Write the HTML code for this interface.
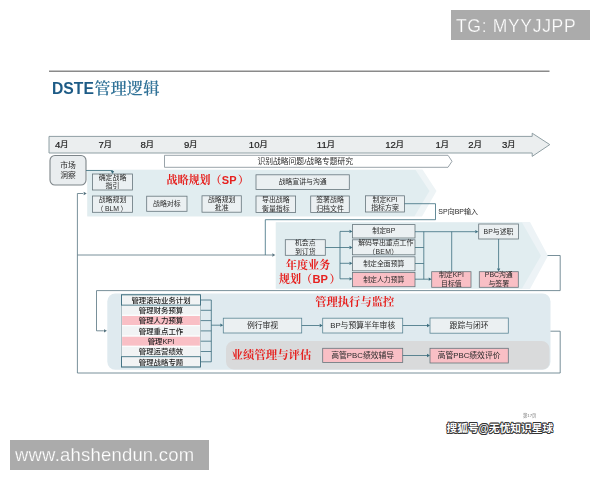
<!DOCTYPE html>
<html lang="zh"><head><meta charset="utf-8"><title>DSTE管理逻辑</title>
<style>
html,body{margin:0;padding:0;background:#fff;}
body{width:600px;height:480px;overflow:hidden;position:relative;font-family:"Liberation Sans", "Noto Sans CJK SC", sans-serif;}
svg{position:absolute;left:0;top:0;filter:blur(0.35px);}
svg text{font-family:"Liberation Sans", "Noto Sans CJK SC", sans-serif;}
svg text.sf{font-family:"Liberation Serif", "Noto Serif CJK SC", serif;font-weight:bold;fill:#e6211f;}
svg text .ss{font-family:"Liberation Sans",sans-serif;}
.wm{position:absolute;background:#ababab;color:#fff;white-space:nowrap;-webkit-text-stroke:0.25px #ababab;}
#tg{left:451px;top:10px;width:139px;height:30px;font-size:17.5px;line-height:30px;letter-spacing:0.68px;}
#tg span{position:absolute;left:5px;top:0.5px;filter:blur(0.25px);}
#www{left:10px;top:440px;width:199px;height:29.5px;font-size:18.5px;line-height:29px;}
#www span{position:absolute;left:5px;top:0;letter-spacing:0.2px;filter:blur(0.25px);}
#sohu{position:absolute;left:446.5px;top:420px;font-size:10.7px;line-height:16px;color:#fff;font-weight:bold;white-space:nowrap;text-shadow:-0.6px -0.6px 0 #333,0.6px -0.6px 0 #333,-0.6px 0.6px 0 #333,0.6px 0.6px 0 #333,0 0.8px 0 #333,0 -0.8px 0 #333,0.8px 0 0 #333,-0.8px 0 0 #333;}
</style></head><body>
<svg width="600" height="480" viewBox="0 0 600 480">
<line x1="49" y1="71.3" x2="549.5" y2="71.3" stroke="#8a8a8a" stroke-width="1.6"/>
<text x="52" y="93.8" font-size="15.7" font-weight="bold" fill="#1d5b86">DSTE</text>
<text x="94.3" y="93.8" font-size="16.3" fill="#2f7197" style='font-family:"Liberation Serif", "Noto Serif CJK SC", serif;font-weight:600'>管理逻辑</text>
<polygon points="49,136.4 532.2,136.4 532.2,133.2 549.8,144.6 532.2,156.4 532.2,153 49,153" fill="#ebeeef" stroke="#84959b" stroke-width="0.9"/>
<text x="55" y="147.6" font-size="9.6" fill="#222" stroke="#222" stroke-width="0.2">4<tspan font-size="8.2" dy="-0.2">月</tspan></text>
<text x="98.5" y="147.6" font-size="9.6" fill="#222" stroke="#222" stroke-width="0.2">7<tspan font-size="8.2" dy="-0.2">月</tspan></text>
<text x="140.5" y="147.6" font-size="9.6" fill="#222" stroke="#222" stroke-width="0.2">8<tspan font-size="8.2" dy="-0.2">月</tspan></text>
<text x="184" y="147.6" font-size="9.6" fill="#222" stroke="#222" stroke-width="0.2">9<tspan font-size="8.2" dy="-0.2">月</tspan></text>
<text x="248.8" y="147.6" font-size="9.6" fill="#222" stroke="#222" stroke-width="0.2">10<tspan font-size="8.2" dy="-0.2">月</tspan></text>
<text x="316.8" y="147.6" font-size="9.6" fill="#222" stroke="#222" stroke-width="0.2">11<tspan font-size="8.2" dy="-0.2">月</tspan></text>
<text x="385.2" y="147.6" font-size="9.6" fill="#222" stroke="#222" stroke-width="0.2">12<tspan font-size="8.2" dy="-0.2">月</tspan></text>
<text x="435.5" y="147.6" font-size="9.6" fill="#222" stroke="#222" stroke-width="0.2">1<tspan font-size="8.2" dy="-0.2">月</tspan></text>
<text x="468.3" y="147.6" font-size="9.6" fill="#222" stroke="#222" stroke-width="0.2">2<tspan font-size="8.2" dy="-0.2">月</tspan></text>
<text x="502" y="147.6" font-size="9.6" fill="#222" stroke="#222" stroke-width="0.2">3<tspan font-size="8.2" dy="-0.2">月</tspan></text>
<polygon points="164.5,155.3 448,155.3 452,161.3 448,167.3 164.5,167.3" fill="#fff" stroke="#8f9aa0" stroke-width="0.9"/>
<text x="257.4" y="163.6" font-size="7.8" fill="#2a2a2a">识别战略问题/战略专题研究</text>
<polygon points="87.3,169.5 422.5,169.5 436.5,191 422,216.6 87.3,216.6" fill="#eef4f6"/>
<polygon points="87.3,170 415.6,170 429.5,191 414.5,216.3 87.3,216.3" fill="#e1edf0"/>
<polygon points="275.8,222 530,222 548,255.7 530,289 275.8,289" fill="#edf3f6"/>
<polygon points="275.8,222.5 522,222.5 541,255.7 522,288.5 275.8,288.5" fill="#e1edf0"/>
<rect x="107.3" y="293.5" width="443.2" height="76.3" rx="8" fill="#dfeaef"/>
<path d="M234,341 H541.5 a8,8 0 0 1 8,8 V362.5 a7,7 0 0 1 -7,7 H234 a8,8 0 0 1 -8,-8 V349 a8,8 0 0 1 8,-8 Z" fill="#d9dadb"/>
<rect x="50" y="155.5" width="36" height="29.5" rx="5" fill="#e9edef" stroke="#7d8589" stroke-width="1.1"/>
<text x="68" y="168.1" font-size="7.8" text-anchor="middle" fill="#2a2a2a">市场</text>
<text x="68" y="177.5" font-size="7.8" text-anchor="middle" fill="#2a2a2a">洞察</text>
<polyline points="86,170.5 112.5,170.5 112.5,171.5" fill="none" stroke="#3b6d7e" stroke-width="0.8"/>
<polygon points="112.5,174 110.85,171.0 114.15,171.0" fill="#3b6d7e"/>
<rect x="92.5" y="174" width="40.0" height="16.0" fill="#ebf0f2" stroke="#66757c" stroke-width="0.8"/>
<text x="112.5" y="179.6" font-size="6.9" text-anchor="middle" fill="#2a2a2a" font-weight="normal">确定战略</text>
<text x="112.5" y="188.4" font-size="6.9" text-anchor="middle" fill="#2a2a2a" font-weight="normal">指引</text>
<rect x="92.5" y="196" width="40.0" height="16.3" fill="#ebf0f2" stroke="#66757c" stroke-width="0.8"/>
<text x="112.5" y="201.8" font-size="6.9" text-anchor="middle" fill="#2a2a2a" font-weight="normal">战略规划</text>
<text x="112.0" y="210.6" font-size="6.9" text-anchor="middle" fill="#2a2a2a" font-weight="normal">（<tspan dx="1.5">BLM</tspan><tspan dx="1.5">）</tspan></text>
<rect x="146.7" y="196.2" width="40.3" height="15.1" fill="#ebf0f2" stroke="#66757c" stroke-width="0.8"/>
<text x="166.8" y="205.8" font-size="6.9" text-anchor="middle" fill="#2a2a2a" font-weight="normal">战略对标</text>
<rect x="202" y="195.8" width="39.3" height="16.4" fill="#ebf0f2" stroke="#66757c" stroke-width="0.8"/>
<text x="221.7" y="201.6" font-size="6.9" text-anchor="middle" fill="#2a2a2a" font-weight="normal">战略规划</text>
<text x="221.7" y="210.4" font-size="6.9" text-anchor="middle" fill="#2a2a2a" font-weight="normal">批准</text>
<rect x="256" y="196" width="39.6" height="16.5" fill="#ebf0f2" stroke="#66757c" stroke-width="0.8"/>
<text x="275.8" y="201.9" font-size="6.9" text-anchor="middle" fill="#2a2a2a" font-weight="normal">导出战略</text>
<text x="275.8" y="210.7" font-size="6.9" text-anchor="middle" fill="#2a2a2a" font-weight="normal">衡量指标</text>
<rect x="310.7" y="196" width="38.6" height="16.5" fill="#ebf0f2" stroke="#66757c" stroke-width="0.8"/>
<text x="330.0" y="201.9" font-size="6.9" text-anchor="middle" fill="#2a2a2a" font-weight="normal">签署战略</text>
<text x="330.0" y="210.7" font-size="6.9" text-anchor="middle" fill="#2a2a2a" font-weight="normal">归档文件</text>
<rect x="365.5" y="195.8" width="39.0" height="16.2" fill="#ebf0f2" stroke="#66757c" stroke-width="0.8"/>
<text x="385.0" y="201.5" font-size="6.9" text-anchor="middle" fill="#2a2a2a" font-weight="normal">制定KPI</text>
<text x="385.0" y="210.3" font-size="6.9" text-anchor="middle" fill="#2a2a2a" font-weight="normal">指标方案</text>
<rect x="256" y="174.8" width="93.3" height="14.7" fill="#ebf0f2" stroke="#66757c" stroke-width="0.8"/>
<text x="302.6" y="184.2" font-size="6.9" text-anchor="middle" fill="#2a2a2a" font-weight="normal">战略宣讲与沟通</text>
<text class="sf" x="166.5" y="183.8" font-size="11">战略规划（<tspan class="ss" dx="0.3">SP</tspan><tspan dx="1.6">）</tspan></text>
<polyline points="404.5,203.7 435.5,203.7 435.5,219.7 265.3,219.7 265.3,255" fill="none" stroke="#3b6d7e" stroke-width="0.8"/>
<text x="438.3" y="213.8" font-size="7" fill="#2a2a2a">SP向BP输入</text>
<polyline points="77.5,255 272,255" fill="none" stroke="#577480" stroke-width="0.8"/>
<polygon points="275.3,255 272.3,253.35 272.3,256.65" fill="#577480"/>
<rect x="285.3" y="239.7" width="40.0" height="15.6" fill="#ebf0f2" stroke="#66757c" stroke-width="0.8"/>
<text x="305.3" y="245.1" font-size="6.9" text-anchor="middle" fill="#2a2a2a" font-weight="normal">机会点</text>
<text x="305.3" y="253.9" font-size="6.9" text-anchor="middle" fill="#2a2a2a" font-weight="normal">到订货</text>
<rect x="352.5" y="224.6" width="62.5" height="13.4" fill="#ebf0f2" stroke="#66757c" stroke-width="0.8"/>
<text x="383.8" y="233.3" font-size="6.9" text-anchor="middle" fill="#2a2a2a" font-weight="normal">制定BP</text>
<rect x="352.5" y="239.8" width="62.5" height="15.0" fill="#ebf0f2" stroke="#66757c" stroke-width="0.8"/>
<text x="385.8" y="244.9" font-size="6.9" text-anchor="middle" fill="#2a2a2a" font-weight="normal">解码导出重点工作</text>
<text x="383.4" y="253.7" font-size="6.9" text-anchor="middle" fill="#2a2a2a" font-weight="normal" letter-spacing="0.3">（BEM）</text>
<rect x="352.5" y="256.8" width="62.5" height="14.0" fill="#ebf0f2" stroke="#66757c" stroke-width="0.8"/>
<text x="383.8" y="265.8" font-size="6.9" text-anchor="middle" fill="#2a2a2a" font-weight="normal">制定全面预算</text>
<rect x="352.5" y="272.5" width="62.5" height="14.2" fill="#f9bfc5" stroke="#66757c" stroke-width="0.8"/>
<text x="383.8" y="281.6" font-size="6.9" text-anchor="middle" fill="#2a2a2a" font-weight="normal">制定人力预算</text>
<rect x="478.7" y="224" width="39.7" height="15.0" fill="#ebf0f2" stroke="#66757c" stroke-width="0.8"/>
<text x="498.5" y="233.5" font-size="6.9" text-anchor="middle" fill="#2a2a2a" font-weight="normal">BP与述职</text>
<rect x="431.7" y="271.7" width="39.3" height="15.6" fill="#f9bfc5" stroke="#66757c" stroke-width="0.8"/>
<text x="451.4" y="277.1" font-size="6.9" text-anchor="middle" fill="#2a2a2a" font-weight="normal">制定KPI</text>
<text x="451.4" y="285.9" font-size="6.9" text-anchor="middle" fill="#2a2a2a" font-weight="normal">目标值</text>
<rect x="479.3" y="271.7" width="39.0" height="15.6" fill="#f9bfc5" stroke="#66757c" stroke-width="0.8"/>
<text x="498.8" y="277.1" font-size="6.9" text-anchor="middle" fill="#2a2a2a" font-weight="normal">PBC沟通</text>
<text x="498.8" y="285.9" font-size="6.9" text-anchor="middle" fill="#2a2a2a" font-weight="normal">与签署</text>
<text class="sf" x="285.8" y="268.7" font-size="11.1">年度业务</text>
<text class="sf" x="278.8" y="282.9" font-size="11.1">规划（<tspan class="ss" dx="0.3">BP</tspan><tspan dx="1.6">）</tspan></text>
<polyline points="325.3,247.5 340,247.5" fill="none" stroke="#3b6d7e" stroke-width="0.8"/>
<polyline points="340,231.4 340,278.8" fill="none" stroke="#3b6d7e" stroke-width="0.8"/>
<polyline points="340,231.4 349.5,231.4" fill="none" stroke="#3b6d7e" stroke-width="0.8"/>
<polygon points="352.5,231.4 349.5,229.75 349.5,233.05" fill="#3b6d7e"/>
<polyline points="340,247.5 349.5,247.5" fill="none" stroke="#3b6d7e" stroke-width="0.8"/>
<polygon points="352.5,247.5 349.5,245.85 349.5,249.15" fill="#3b6d7e"/>
<polyline points="340,263.3 349.5,263.3" fill="none" stroke="#3b6d7e" stroke-width="0.8"/>
<polygon points="352.5,263.3 349.5,261.65000000000003 349.5,264.95" fill="#3b6d7e"/>
<polyline points="340,278.8 349.5,278.8" fill="none" stroke="#3b6d7e" stroke-width="0.8"/>
<polygon points="352.5,278.8 349.5,277.15000000000003 349.5,280.45" fill="#3b6d7e"/>
<polyline points="415,231.7 475.3,231.7" fill="none" stroke="#3b6d7e" stroke-width="0.8"/>
<polygon points="478.3,231.7 475.3,230.04999999999998 475.3,233.35" fill="#3b6d7e"/>
<polyline points="423.8,231.7 423.8,279.2" fill="none" stroke="#3b6d7e" stroke-width="0.8"/>
<polyline points="415,247.5 423.8,247.5" fill="none" stroke="#3b6d7e" stroke-width="0.8"/>
<polyline points="415,263.5 423.8,263.5" fill="none" stroke="#3b6d7e" stroke-width="0.8"/>
<polyline points="415,279.2 428.7,279.2" fill="none" stroke="#3b6d7e" stroke-width="0.8"/>
<polygon points="431.7,279.2 428.7,277.55 428.7,280.84999999999997" fill="#3b6d7e"/>
<polyline points="451.7,231.7 451.7,271.7" fill="none" stroke="#3b6d7e" stroke-width="0.8"/>
<polyline points="498.6,239 498.6,268.7" fill="none" stroke="#3b6d7e" stroke-width="0.8"/>
<polygon points="498.6,271.5 496.95000000000005,268.5 500.25,268.5" fill="#3b6d7e"/>
<polyline points="547.5,255.5 560.2,255.5 560.2,290.6 96.5,290.6 96.5,330.8 103.8,330.8" fill="none" stroke="#577480" stroke-width="0.8"/>
<polygon points="107,330.8 104.0,329.15000000000003 104.0,332.45" fill="#577480"/>
<rect x="121.5" y="294.8" width="79" height="10.31" fill="#f1f3f4" stroke="#fbfcfc" stroke-width="1.2"/>
<text x="161" y="302.7" font-size="7.4" text-anchor="middle" fill="#1d1d1d" font-weight="500">管理滚动业务计划</text>
<polyline points="200.5,300.0 211.3,300.0" fill="none" stroke="#3b6d7e" stroke-width="0.8"/>
<rect x="121.5" y="305.1" width="79" height="10.31" fill="#f1f3f4" stroke="#fbfcfc" stroke-width="1.2"/>
<text x="161" y="313.0" font-size="7.4" text-anchor="middle" fill="#1d1d1d" font-weight="500">管理财务预算</text>
<polyline points="200.5,310.3 211.3,310.3" fill="none" stroke="#3b6d7e" stroke-width="0.8"/>
<rect x="121.5" y="315.4" width="79" height="10.31" fill="#f9bfc5" stroke="#fbfcfc" stroke-width="1.2"/>
<text x="161" y="323.3" font-size="7.4" text-anchor="middle" fill="#1d1d1d" font-weight="500">管理人力预算</text>
<polyline points="200.5,320.6 211.3,320.6" fill="none" stroke="#3b6d7e" stroke-width="0.8"/>
<rect x="121.5" y="325.7" width="79" height="10.31" fill="#f1f3f4" stroke="#fbfcfc" stroke-width="1.2"/>
<text x="161" y="333.6" font-size="7.4" text-anchor="middle" fill="#1d1d1d" font-weight="500">管理重点工作</text>
<polyline points="200.5,330.9 211.3,330.9" fill="none" stroke="#3b6d7e" stroke-width="0.8"/>
<rect x="121.5" y="336.1" width="79" height="10.31" fill="#f9bfc5" stroke="#fbfcfc" stroke-width="1.2"/>
<text x="161" y="343.9" font-size="7.4" text-anchor="middle" fill="#1d1d1d" font-weight="500">管理KPI</text>
<polyline points="200.5,341.2 211.3,341.2" fill="none" stroke="#3b6d7e" stroke-width="0.8"/>
<rect x="121.5" y="346.4" width="79" height="10.31" fill="#f1f3f4" stroke="#fbfcfc" stroke-width="1.2"/>
<text x="161" y="354.2" font-size="7.4" text-anchor="middle" fill="#1d1d1d" font-weight="500">管理运营绩效</text>
<polyline points="200.5,351.5 211.3,351.5" fill="none" stroke="#3b6d7e" stroke-width="0.8"/>
<rect x="121.5" y="356.7" width="79" height="10.31" fill="#f1f3f4" stroke="#fbfcfc" stroke-width="1.2"/>
<text x="161" y="364.5" font-size="7.4" text-anchor="middle" fill="#1d1d1d" font-weight="500">管理战略专题</text>
<polyline points="200.5,361.8 211.3,361.8" fill="none" stroke="#3b6d7e" stroke-width="0.8"/>
<rect x="121.5" y="294.8" width="79" height="72.20" fill="none" stroke="#8fa7b0" stroke-width="0.7"/>
<rect x="121.5" y="294.8" width="79" height="10.31" fill="none" stroke="#3b6d7e" stroke-width="0.9"/>
<rect x="121.5" y="356.7" width="79" height="10.31" fill="none" stroke="#3b6d7e" stroke-width="0.9"/>
<polyline points="211.3,300.0 211.3,361.8" fill="none" stroke="#3b6d7e" stroke-width="0.8"/>
<polyline points="211.3,325.2 220.3,325.2" fill="none" stroke="#3b6d7e" stroke-width="0.8"/>
<polygon points="223.3,325.2 220.3,323.55 220.3,326.84999999999997" fill="#3b6d7e"/>
<rect x="223.3" y="318.2" width="78.4" height="14.8" fill="#ebf0f2" stroke="#5a8594" stroke-width="0.8"/>
<text x="262.5" y="328.0" font-size="7.8" text-anchor="middle" fill="#2a2a2a" font-weight="normal">例行审视</text>
<rect x="322.7" y="318.2" width="80.0" height="14.8" fill="#ebf0f2" stroke="#5a8594" stroke-width="0.8"/>
<text x="362.7" y="328.0" font-size="7.8" text-anchor="middle" fill="#2a2a2a" font-weight="normal">BP与预算半年审核</text>
<rect x="430" y="318" width="78.3" height="15.2" fill="#ebf0f2" stroke="#5a8594" stroke-width="0.8"/>
<text x="469.1" y="328.0" font-size="7.8" text-anchor="middle" fill="#2a2a2a" font-weight="normal">跟踪与闭环</text>
<polyline points="301.7,325.5 319.7,325.5" fill="none" stroke="#3b6d7e" stroke-width="0.8"/>
<polygon points="322.7,325.5 319.7,323.85 319.7,327.15" fill="#3b6d7e"/>
<polyline points="402.7,325.5 427,325.5" fill="none" stroke="#3b6d7e" stroke-width="0.8"/>
<polygon points="430,325.5 427.0,323.85 427.0,327.15" fill="#3b6d7e"/>
<rect x="322.7" y="348.3" width="80.0" height="14.2" fill="#f9bfc5" stroke="#66757c" stroke-width="0.8"/>
<text x="362.7" y="357.8" font-size="7.8" text-anchor="middle" fill="#2a2a2a" font-weight="normal">高管PBC绩效辅导</text>
<rect x="430" y="348.3" width="78.3" height="14.7" fill="#f9bfc5" stroke="#66757c" stroke-width="0.8"/>
<text x="469.1" y="358.0" font-size="7.8" text-anchor="middle" fill="#2a2a2a" font-weight="normal">高管PBC绩效评价</text>
<polyline points="402.7,355.5 427,355.5" fill="none" stroke="#3b6d7e" stroke-width="0.8"/>
<polygon points="430,355.5 427.0,353.85 427.0,357.15" fill="#3b6d7e"/>
<text class="sf" x="315.2" y="305.9" font-size="11.3">管理执行与监控</text>
<text class="sf" x="231.6" y="358.8" font-size="11.4">业绩管理与评估</text>
<polyline points="550.5,331.2 560.2,331.2 560.2,373 77.4,373 77.4,193.5 83,193.5" fill="none" stroke="#577480" stroke-width="0.8"/>
<polygon points="86.7,193.5 83.7,191.85 83.7,195.15" fill="#577480"/>
<text x="523" y="417" font-size="4.3" fill="#777">第17页</text>
</svg>
<div class="wm" id="tg"><span>TG: MYYJJPP</span></div>
<div class="wm" id="www"><span>www.ahshendun.com</span></div>
<div id="sohu">搜狐号@无忧知识星球</div>
</body></html>
